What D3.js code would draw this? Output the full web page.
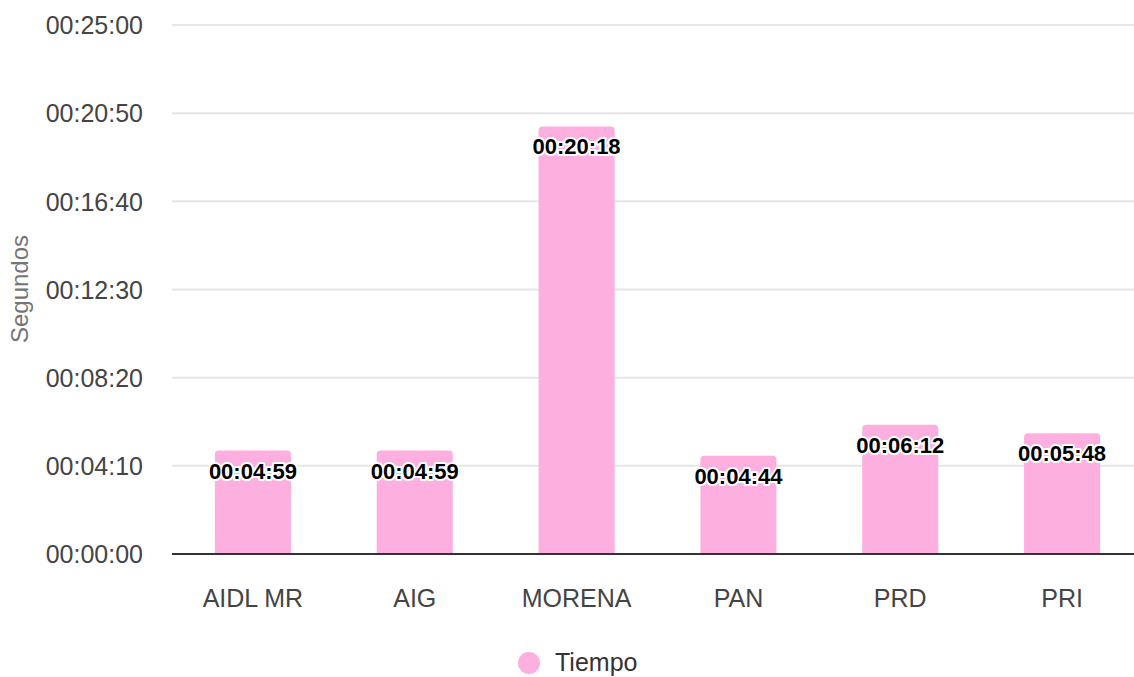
<!DOCTYPE html>
<html><head><meta charset="utf-8">
<script src="https://cdn.jsdelivr.net/npm/d3@7"></script>
<style>body{margin:0;background:#fff}svg{display:block;font-family:"Liberation Sans",Arial,sans-serif}</style>
</head><body><svg id="c" width="1134" height="677"></svg>
<script>
const categories = ["AIDL MR","AIG","MORENA","PAN","PRD","PRI"];
const seconds = [299, 299, 1218, 284, 372, 348];
const tickValues = [0, 250, 500, 750, 1000, 1250, 1500];
const seriesName = "Tiempo";
const axisTitle = "Segundos";

const FONT = "'Liberation Sans',Arial,sans-serif";
const fmt = s => {
  const h = Math.floor(s/3600), m = Math.floor((s%3600)/60), sec = Math.round(s%60);
  const p = n => String(n).padStart(2,"0");
  return p(h)+":"+p(m)+":"+p(sec);
};
const svg = d3.select("#c");
const x = d3.scaleBand().domain(categories).range([172, 1143]).paddingInner(0.53).paddingOuter(0.265);
const y = d3.scaleLinear().domain([0, 1500]).range([554, 25]);
const color = "#fdafdf";

// grid
svg.append("g").selectAll("line").data(tickValues.filter(d=>d>0)).join("line")
  .attr("x1", 172).attr("x2", 1134).attr("y1", d=>y(d)).attr("y2", d=>y(d))
  .attr("stroke", "#e6e6e6").attr("stroke-width", 2);

// y axis labels
const yAxis = svg.append("g").attr("transform","translate(143,0)")
  .call(d3.axisLeft(y).tickValues(tickValues).tickFormat(fmt).tickSize(0).tickPadding(0));
yAxis.select(".domain").remove();
yAxis.selectAll("text").attr("font-size", 25).attr("fill", "#444").attr("font-family",FONT).attr("dy","0.35em");

// bars with rounded top
const bw = x.bandwidth(), r = 4;
svg.append("g").selectAll("path").data(categories).join("path")
  .attr("fill", color)
  .attr("d", (c,i) => {
    const x0 = x(c), y0 = y(seconds[i]) + 2, yb = y(0);
    return `M${x0},${yb}V${y0+r}Q${x0},${y0} ${x0+r},${y0}H${x0+bw-r}Q${x0+bw},${y0} ${x0+bw},${y0+r}V${yb}Z`;
  });

// x axis
const xAxis = svg.append("g").attr("transform","translate(0,554)")
  .call(d3.axisBottom(x).tickSize(0).tickPadding(0));
xAxis.select(".domain").attr("d","M172,0H1134").attr("stroke","#333").attr("stroke-width",2);
xAxis.selectAll("text").attr("font-size", 25).attr("fill", "#444").attr("font-family",FONT)
  .attr("dy", null).attr("y", 53);

// data labels
svg.append("g").selectAll("text").data(categories).join("text")
  .attr("x", c => x(c)+bw/2).attr("y", (c,i)=>y(seconds[i])+30)
  .attr("text-anchor","middle").attr("font-size",22).attr("font-weight","bold").attr("font-family",FONT)
  .attr("fill","#000").attr("stroke","#fff").attr("stroke-width",4).attr("paint-order","stroke")
  .attr("stroke-linejoin","round")
  .text((c,i)=>fmt(seconds[i]));

// y title
svg.append("text").attr("transform","translate(28,289) rotate(-90)")
  .attr("text-anchor","middle").attr("font-size",24).attr("fill","#757575").attr("font-family",FONT).text(axisTitle);

// legend
svg.append("circle").attr("cx",529).attr("cy",663).attr("r",11).attr("fill",color);
svg.append("text").attr("x",555).attr("y",671).attr("font-size",25).attr("fill","#333").attr("font-family",FONT).text(seriesName);
</script></body></html>
